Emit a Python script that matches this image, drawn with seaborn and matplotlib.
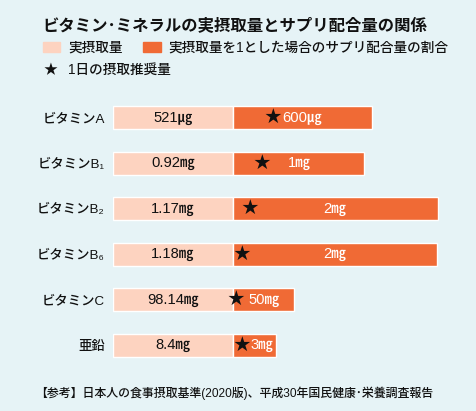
import matplotlib
matplotlib.use("Agg")
import matplotlib.pyplot as plt
from matplotlib.patches import Rectangle
import seaborn as sns

# data
nutrients = ["ビタミンA", "ビタミンB₁", "ビタミンB₂", "ビタミンB₆", "ビタミンC", "亜鉛"]
intake_ratio = [1, 1, 1, 1, 1, 1]
supp_ratio = [1.16, 1.09, 1.71, 1.70, 0.51, 0.36]
intake_labels = ["521㎍", "0.92㎎", "1.17㎎", "1.18㎎", "98.14㎎", "8.4㎎"]
supp_labels = ["600㎍", "1㎎", "2㎎", "2㎎", "50㎎", "3㎎"]

# label placement inside the orange bars
star_x = [0.33, 0.24, 0.14, 0.075, 0.025, 0.07]
supp_text_x = [0.58, 0.55, 0.85, 0.85, 0.26, 0.24]

BG = "#e6f3f6"
LIGHT = "#fdd3c0"
ORANGE = "#f06a35"
LATIN = ["Liberation Sans", "Noto Sans CJK JP", "DejaVu Sans"]

sns.set_theme(style="white")
plt.rcParams["font.family"] = ["Noto Sans CJK JP", "DejaVu Sans"]

fig = plt.figure(figsize=(4.77, 4.11), dpi=100)
fig.patch.set_facecolor(BG)
ax = fig.add_axes([113 / 477, 1 - 368 / 411, (477 - 113) / 477, 273 / 411])
ax.set_facecolor(BG)

# light bars go left from 0, orange bars go right
sns.barplot(x=[-v for v in intake_ratio], y=nutrients, color=LIGHT,
            saturation=1, width=0.5, orient="h", ax=ax)
sns.barplot(x=supp_ratio, y=nutrients, color=ORANGE,
            saturation=1, width=0.5, orient="h", ax=ax)

ax.set_xlim(-1, (477 - 113) / 120 - 1)
ax.set_ylim(5.5, -0.5)
ax.set_xlabel("")
ax.set_ylabel("")
ax.set_xticks([])
for s in ax.spines.values():
    s.set_visible(False)
ax.tick_params(axis="y", length=0, pad=6)
for lab in ax.get_yticklabels():
    lab.set_fontfamily(LATIN)
    lab.set_fontsize(9.6)
    lab.set_fontweight("medium")
    lab.set_color("#111111")

for i in range(len(nutrients)):
    ax.text(-intake_ratio[i] / 2, i, intake_labels[i], ha="center", va="center",
            fontsize=10.6, color="#111111", family=LATIN, fontweight="medium")
    ax.text(star_x[i], i, "★", ha="center", va="center", fontsize=12, color="#111111")
    ax.text(supp_text_x[i], i, supp_labels[i], ha="center", va="center",
            fontsize=10.6, color="white", family=LATIN, fontweight="medium")

# title and legend
fig.text(42 / 477, 1 - 25 / 411, "ビタミン･ミネラルの実摂取量とサプリ配合量の関係",
         fontsize=11.8, fontweight="bold", va="center", ha="left", color="#111111")
fig.patches.append(Rectangle((43 / 477, 1 - 52 / 411), 17 / 477, 10 / 411,
                             transform=fig.transFigure, color=LIGHT))
fig.text(68 / 477, 1 - 47 / 411, "実摂取量", fontsize=9.8, va="center",
         color="#111111", family=LATIN, fontweight="medium")
fig.patches.append(Rectangle((143 / 477, 1 - 52 / 411), 18 / 477, 10 / 411,
                             transform=fig.transFigure, color=ORANGE))
fig.text(168 / 477, 1 - 47 / 411, "実摂取量を1とした場合のサプリ配合量の割合",
         fontsize=9.8, va="center", color="#111111", family=LATIN, fontweight="medium")
fig.text(50 / 477, 1 - 70 / 411, "★", fontsize=10, va="center", ha="center", color="#111111")
fig.text(68 / 477, 1 - 70 / 411, "1日の摂取推奨量", fontsize=9.8, va="center",
         color="#111111", family=LATIN, fontweight="medium")

fig.text(35 / 477, 1 - 393 / 411,
         "【参考】日本人の食事摂取基準(2020版)、平成30年国民健康･栄養調査報告",
         fontsize=8.6, va="center", ha="left", color="#111111",
         family=LATIN, fontweight="medium")

fig.savefig("out.png", dpi=100, facecolor=BG)
